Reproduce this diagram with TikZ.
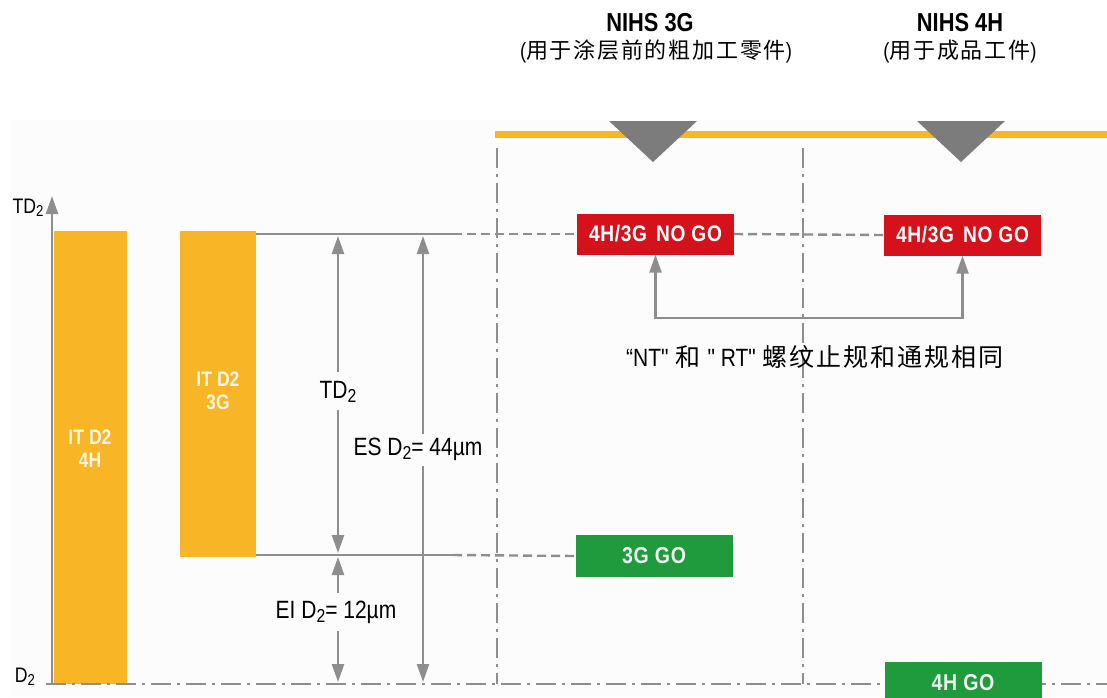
\documentclass[tikz,border=0pt]{standalone}
\usepackage{fontspec}
\setmainfont{Liberation Sans}
\newfontfamily\cond[FakeStretch=0.84]{Liberation Sans}
\newfontfamily\boxf[FakeStretch=0.85,LetterSpace=3]{Liberation Sans}
\newfontfamily\cjk[LetterSpace=8]{Noto Sans CJK SC}
\usetikzlibrary{arrows.meta}
\definecolor{barorange}{HTML}{F8B526}
\definecolor{lgray}{HTML}{8E8E8E}
\definecolor{trigray}{HTML}{7C7C7C}
\definecolor{boxred}{HTML}{D5121B}
\definecolor{boxgreen}{HTML}{1F9A3D}
\newcommand\lowsub[1]{\raisebox{-0.3ex}{\scalebox{0.75}{#1}}}
\tikzset{
  gline/.style={draw=lgray, line width=2.4pt},
  dashln/.style={gline, dash pattern=on 9pt off 5pt},
  dashdot/.style={gline, dash pattern=on 20pt off 6pt on 3pt off 6pt},
  arr/.style={gline, -{Triangle[width=12pt,length=18pt]}},
  arrboth/.style={gline, {Triangle[width=12pt,length=18pt]}-{Triangle[width=12pt,length=18pt]}},
  bar/.style={fill=barorange, inner sep=0pt, minimum width=#1},
  bartext/.style={align=center, inner sep=0pt, text=white!88!barorange, font=\cond\bfseries\fontsize{21}{23}\selectfont},
  redbox/.style={fill=boxred, text=white, inner sep=0pt, minimum width=157pt, minimum height=41pt, font=\boxf\bfseries\fontsize{22.5}{24}\selectfont},
  greenbox/.style={fill=boxgreen, text=white!92!boxgreen, inner sep=0pt, minimum width=157pt, minimum height=42pt, font=\boxf\bfseries\fontsize{23}{24}\selectfont},
  lab/.style={inner sep=1pt, font=\cond\fontsize{25}{28}\selectfont},
  title/.style={inner sep=0pt, font=\cond\bfseries\fontsize{26}{28}\selectfont},
  subtitle/.style={inner sep=0pt, anchor=base, font=\cond\fontsize{22}{26}\selectfont},
  tri/.style={fill=trigray}
}
\begin{document}
\begin{tikzpicture}[x=1pt,y=-1pt]
\useasboundingbox (0,0) rectangle (1107,697);
\clip (0,0) rectangle (1107,697);
\fill[black!1] (10,120) rectangle (1107,697);

% titles
\node[title] (t3g) at (650,22.5) {NIHS 3G};
\node[subtitle] (s3g) at (656,58) {({\cjk 用于涂层前的粗加工零件})};
\node[title] (t4h) at (960,22.5) {NIHS 4H};
\node[subtitle] (s4h) at (960,58) {({\cjk 用于成品工件})};

% yellow band and triangles
\fill[barorange] (495,131) rectangle (1107,138);
\fill[tri] (609,121) -- (697,121) -- (653,162) -- cycle;
\fill[tri] (917,121) -- (1005,121) -- (961,162) -- cycle;

% coordinates
\coordinate (axisbot) at (52,684);
\coordinate (axistop) at (52,196);
\coordinate (baseL) at (46,684);
\coordinate (baseR) at (1107,684);
\coordinate (v1top) at (497,148);
\coordinate (v1bot) at (497,684);
\coordinate (v2top) at (803,148);
\coordinate (v2bot) at (803,684);
\coordinate (topL) at (256,234);
\coordinate (topM) at (453,234);
\coordinate (botL) at (256,555);
\coordinate (botM) at (453,555);
\coordinate (tdtop) at (338,236);
\coordinate (tdbot) at (338,553);
\coordinate (estop) at (423,236);
\coordinate (esbot) at (423,682);
\coordinate (eitop) at (338,557);
\coordinate (eibot) at (338,682);
\coordinate (connbot) at (808,318);

% bars
\node[bar=73pt, minimum height=453pt] (bar1) at (90.5,457.5) {};
\node[bar=76pt, minimum height=326pt] (bar2) at (218,394) {};
\node[bartext] (b1t) at (90,449) {IT D2\\4H};
\node[bartext] (b2t) at (218,391) {IT D2\\3G};

% base dash-dot line and verticals
\draw[dashdot] (baseL) -- (baseR);
\draw[dashdot] (v1top) -- (v1bot);
\draw[dashdot] (v2top) -- (v2bot);

% axis
\draw[arr] (axisbot) -- (axistop);
\node[inner sep=0pt, font=\cond\fontsize{21}{23}\selectfont] (axlab) at (28,208) {TD\lowsub{2}};
\node[inner sep=0pt, font=\cond\fontsize{21}{23}\selectfont] (d2lab) at (25,677) {D\lowsub{2}};

% boxes
\node[redbox] (r1) at (655.5,234) {4H/3G\hspace{9pt}NO GO};
\node[redbox] (r2) at (962.5,235) {4H/3G\hspace{9pt}NO GO};
\node[greenbox] (g1) at (654,556) {3G GO};
\node[greenbox] (g2) at (963,683) {4H GO};

% reference lines
\draw[gline] (topL) -- (topM);
\draw[dashln] (topM) -- (r1.west);
\draw[dashln] (r1.east) -- (r2.west);
\draw[gline] (botL) -- (botM);
\draw[dashln] (botM) -- (g1.west);

% dimension labels and arrows
\node[lab] (tdlab) at (338,392) {TD\lowsub{2}};
\draw[arr] (tdlab.north) ++(0,-8) -- (tdtop);
\draw[arr] (tdlab.south) ++(0,6) -- (tdbot);
\node[lab] (eslab) at (418,449) {ES D\lowsub{2}= 44µm};
\draw[arr] (eslab.north -| estop) ++(0,-2) -- (estop);
\draw[arr] (eslab.south -| estop) ++(0,4) -- (esbot);
\node[lab] (eilab) at (336,612) {EI D\lowsub{2}= 12µm};
\draw[arr] (eilab.north -| eitop) ++(0,-6) -- (eitop);
\draw[arr] (eilab.south -| eitop) ++(0,6) -- (eibot);

% connector between NO GO boxes
\draw[arrboth] (r1.south) |- (connbot) -| (r2.south);
\node[inner sep=0pt, anchor=base, font=\fontsize{25}{28}\selectfont] (note) at (815,366)
  {{\cond “NT"} {\cjk 和} {\cond " RT"} {\cjk 螺纹止规和通规相同}};
\end{tikzpicture}
\end{document}
